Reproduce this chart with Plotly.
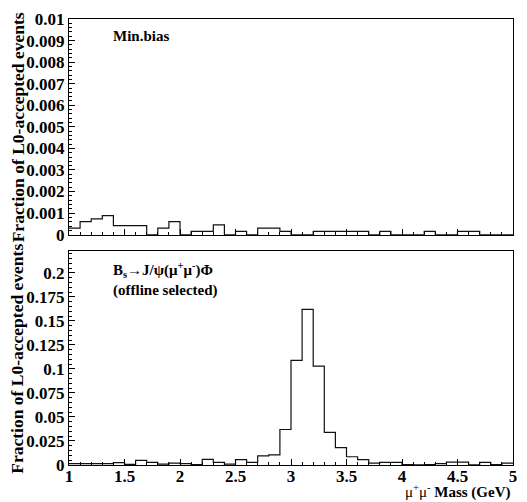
import numpy as np
import plotly.graph_objects as go
from plotly.subplots import make_subplots

# 40 bins of 0.1 GeV between 1 and 5 GeV
bin_edges = np.round(np.linspace(1.0, 5.0, 41), 2)

minbias_frac = [0.0003, 0.0006, 0.00073, 0.00088, 0.00042, 0.00042, 0.00042, 0.0, 0.0003, 0.0006,
                0.0, 0.00015, 0.00015, 0.00045, 0.0, 0.00015, 0.0, 0.0003, 0.0003, 0.00015,
                0.0, 0.0, 0.00015, 0.00015, 0.00015, 0.00015, 0.00015, 0.0, 0.00015, 0.0,
                0.0, 0.0, 0.00015, 0.0, 0.0, 0.00015, 0.00015, 0.0, 0.0, 0.0]

bs_frac = [0.0014, 0.0014, 0.0014, 0.0014, 0.0024, 0.0007, 0.0048, 0.0027, 0.001, 0.002,
           0.0014, 0.0003, 0.0058, 0.0027, 0.001, 0.0055, 0.0027, 0.0095, 0.0105, 0.037,
           0.109, 0.162, 0.103, 0.034, 0.018, 0.0086, 0.0055, 0.002, 0.0027, 0.0027,
           0.0005, 0.0002, 0.0004, 0.0014, 0.003, 0.003, 0.0002, 0.0027, 0.0003, 0.002]

top_ticks = [0, 0.001, 0.002, 0.003, 0.004, 0.005, 0.006, 0.007, 0.008, 0.009, 0.01]
top_labels = ["0", "0.001", "0.002", "0.003", "0.004", "0.005", "0.006", "0.007", "0.008", "0.009", "0.01"]
bot_ticks = [0, 0.025, 0.05, 0.075, 0.1, 0.125, 0.15, 0.175, 0.2]
bot_labels = ["0", "0.025", "0.05", "0.075", "0.1", "0.125", "0.15", "0.175", "0.2"]
x_ticks = [1, 1.5, 2, 2.5, 3, 3.5, 4, 4.5, 5]
x_labels = ["1", "1.5", "2", "2.5", "3", "3.5", "4", "4.5", "5"]

FONT = "Liberation Serif"

fig = make_subplots(rows=2, cols=1, vertical_spacing=0.0)

for row, vals in [(1, minbias_frac), (2, bs_frac)]:
    fig.add_trace(go.Scatter(x=bin_edges, y=list(vals) + [vals[-1]], mode="lines",
                             line=dict(color="#111", width=1.2, shape="hv"),
                             showlegend=False, hoverinfo="skip"), row=row, col=1)

axis_common = dict(showline=True, mirror=True, linecolor="black", linewidth=1,
                   showgrid=False, zeroline=False, ticks="inside", tickcolor="black",
                   tickfont=dict(family=FONT, size=17, color="black", weight="bold"))

fig.update_xaxes(range=[1, 5], tickvals=x_ticks, ticktext=x_labels, ticklen=6,
                 ticklabelstandoff=-4,
                 minor=dict(dtick=0.1, ticks="inside", ticklen=3, tickcolor="black"),
                 **axis_common)
fig.update_xaxes(showticklabels=False, row=1, col=1)
fig.update_yaxes(range=[0, 0.01], tickvals=top_ticks, ticktext=top_labels, ticklen=6,
                 minor=dict(dtick=0.0002, ticks="inside", ticklen=3, tickcolor="black"),
                 domain=[0.5165, 1.0], row=1, col=1, **axis_common)
fig.update_yaxes(range=[0, 0.2225], tickvals=bot_ticks, ticktext=bot_labels, ticklen=6,
                 minor=dict(dtick=0.005, ticks="inside", ticklen=3, tickcolor="black"),
                 domain=[0.0, 0.479], row=2, col=1, **axis_common)

ytitle = "Fraction of L0-accepted events"
title_font = dict(family=FONT, size=17.5, color="black", weight="bold")
lab_font = dict(family=FONT, size=15, color="black", weight="bold")
fig.add_annotation(text=ytitle, textangle=-90, xref="x domain", yref="y domain",
                   x=-0.116, y=0.5, xanchor="center", yanchor="middle", showarrow=False,
                   font=title_font)
fig.add_annotation(text=ytitle, textangle=-90, xref="x2 domain", yref="y2 domain",
                   x=-0.116, y=0.5, xanchor="center", yanchor="middle", showarrow=False,
                   font=title_font)
fig.add_annotation(text="Min.bias", xref="x domain", yref="y domain", x=0.094, y=0.92,
                   xanchor="left", yanchor="middle", showarrow=False, font=lab_font)
fig.add_annotation(text="B<sub>s</sub>→J/ψ(μ<sup>+</sup>μ<sup>-</sup>)Φ<br>(offline selected)",
                   xref="x2 domain", yref="y2 domain", x=0.094, y=0.97, align="left",
                   xanchor="left", yanchor="top", showarrow=False, font=lab_font)
fig.add_annotation(text="<span style='font-weight:normal'>μ<sup>+</sup>μ<sup>-</sup></span> Mass (GeV)",
                   xref="x2 domain", yref="y2 domain",
                   x=1.0, y=-0.07, xanchor="right", yanchor="top", showarrow=False,
                   font=dict(family=FONT, size=15, color="black", weight="bold"))

fig.update_layout(width=527, height=502, margin=dict(l=69, r=11, t=10, b=37),
                  paper_bgcolor="white", plot_bgcolor="white")

# drop the browser's default 8px body margin so the figure fills the window
fig.write_html("out.html", config={"displayModeBar": False},
               post_script="document.body.style.margin='0';")
